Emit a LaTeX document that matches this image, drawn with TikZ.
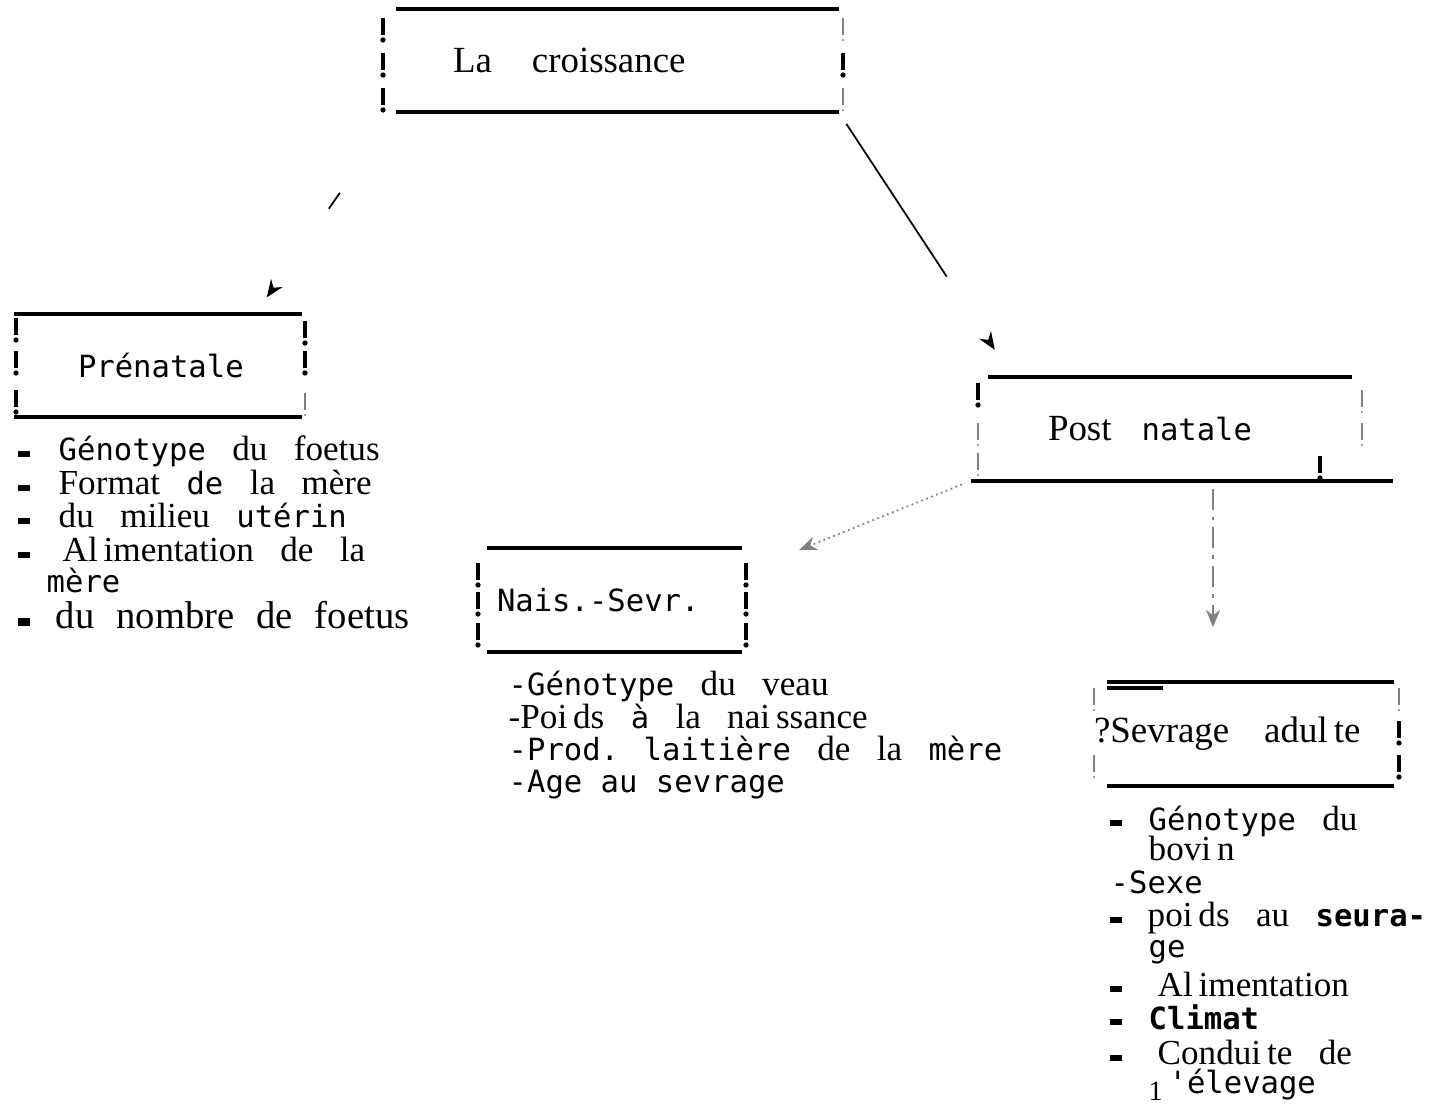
\documentclass[tikz,border=0pt]{standalone}
\usepackage{fontspec}
\setmainfont{Liberation Serif}[WordSpace=3]
\newfontfamily\machfont{DejaVu Sans Mono}
\newcommand\typed[1]{{\machfont\fontsize{8.7}{11}\selectfont #1}}
\usetikzlibrary{arrows.meta}

\tikzset{
  tbox/.style={minimum height=10.2mm, inner sep=0pt, align=left, font=\fontsize{10.5}{12}\selectfont},
  edgeline/.style={line width=1.2pt},
  entry/.style={anchor=base west, inner sep=0pt, font=\fontsize{10}{11}\selectfont},
  blob/.style={line width=1.5pt},
  link/.style={line width=0.5pt, -{Stealth[length=5pt,width=4pt]}},
  pics/bang/.style={code={
    \draw[line width=1.1pt] (0,-12) -- (0,5);
    \fill (0,10) circle (0.75pt);}},
  pics/fbang/.style={code={
    \draw[gray, line width=0.35pt] (0,-12) -- (0,5);
    \fill[gray] (0,10) circle (0.3pt);}},
}

\begin{document}
\begin{tikzpicture}[x=0.1mm, y=-0.1mm]
  \useasboundingbox (0,0) rectangle (1430,1104);

  % boxes
  \node[tbox, text width=44.1mm] (croiss) at (617.5,60.5) {\hspace*{5.6mm}La\hspace{4mm}croissance};
  \node[tbox, text width=28.6mm] (pre) at (158,365.5) {\hspace*{6.3mm}\typed{Prénatale}};
  \node[tbox, text width=42mm] (post) at (1182,429) {\hspace*{7.6mm}Post\hspace{3mm}\typed{natale}};
  \node[tbox, text width=25.3mm] (nais) at (614.5,600) {\hspace*{0.9mm}\typed{Nais.-Sevr.}};
  \node[tbox, text width=28.5mm] (sev) at (1250.5,734) {\hspace*{-1.4mm}?Sevrage\hspace{3.5mm}adul\,te};

  \foreach \n in {croiss,pre,nais,sev}
    \draw[edgeline] (\n.north west) -- (\n.north east) (\n.south west) -- (\n.south east);
  \draw[edgeline] ([xshift=1.7mm]post.north west) -- ([xshift=-4.1mm]post.north east)
    (post.south west) -- (post.south east);
  \draw[edgeline] (1107,688) -- (1163,688);

  % side marks
  \foreach \x/\y in {383/30,383/65,383/100,843/65,16/330,16/363,16/402,305/333,305/363,
      978/395,1320/468,478/575,478/604,478/635,746/575,746/604,746/635,1399/733,1399/767}
    \pic at (\x,\y) {bang};
  \foreach \x/\y in {843/30,843/100,305/405,978/435,978/465,1362/402,1362/435,
      1094/700,1094/767,1399/700}
    \pic at (\x,\y) {fbang};

  % arrows
  \draw[link, dash pattern=on 5.5pt off 200pt, dash phase=177.5pt, shorten >=2mm] (croiss.south west) -- (pre.28);
  \draw[link, dash pattern=on 52pt off 200pt, dash phase=248pt, shorten >=3.3mm] (croiss.south east) -- (post.163);
  \draw[link, gray, densely dotted, shorten <=1mm, shorten >=6.2mm] (post.south west) -- (nais.12);
  \coordinate (drop) at ([xshift=3.1mm]post.south);
  \draw[link, gray, dash pattern=on 6pt off 2pt on 1pt off 2pt, shorten <=0.8mm, shorten >=5.5mm] (drop) -- (drop |- sev.north);

  % Prenatale
  \node[entry] (g1) at (58,460) {\typed{Génotype} du foetus};
  \node[entry] (g2) at (58,494) {Format \typed{de} la mère};
  \node[entry] (g3) at (58,527) {du milieu \typed{utérin}};
  \node[entry] (g4) at (62,561) {Al\,imentation de la};
  \node[entry] (g5) at (46,592) {\typed{mère}};
  \node[entry, font=\fontsize{11}{13}\selectfont] (g6) at (55,628)
    {du\hspace{2.2mm}nombre\hspace{2.2mm}de\hspace{2.2mm}foetus};
  \foreach \y in {454,488,521,555}
    \draw[blob] (18,\y) -- (30,\y);
  \draw[line width=2pt] (18,622) -- (30,622);

  % Nais.-Sevr.
  \node[entry] (n1) at (508,695) {\typed{-Génotype} du veau};
  \node[entry] (n2) at (508,728) {-Poi\,ds \typed{à} la nai\,ssance};
  \node[entry] (n3) at (508,760) {\typed{-Prod. laitière} de la \typed{mère}};
  \node[entry] (n4) at (508,792) {\typed{-Age au sevrage}};

  % Sevrage adulte
  \node[entry] (s1) at (1148,830) {\typed{Génotype} du};
  \node[entry] (s2) at (1148,860) {bovi\,n};
  \node[entry] (s3) at (1110,893) {\typed{-Sexe}};
  \node[entry] (s4) at (1147,926) {poi\,ds au \typed{\bfseries seura-}};
  \node[entry] (s5) at (1148,957) {\typed{ge}};
  \node[entry] (s6) at (1157,996) {Al\,imentation};
  \node[entry] (s7) at (1148,1029) {\typed{\bfseries Climat}};
  \node[entry] (s8) at (1157,1064) {Condui\,te de};
  \node[entry] (s9) at (1148,1093) {\raisebox{-2pt}{\fontsize{8}{9}\selectfont 1}\,\typed{'élevage}};
  \foreach \y in {823,920,989,1022,1058}
    \draw[blob] (1110,\y) -- (1122,\y);
\end{tikzpicture}
\end{document}
